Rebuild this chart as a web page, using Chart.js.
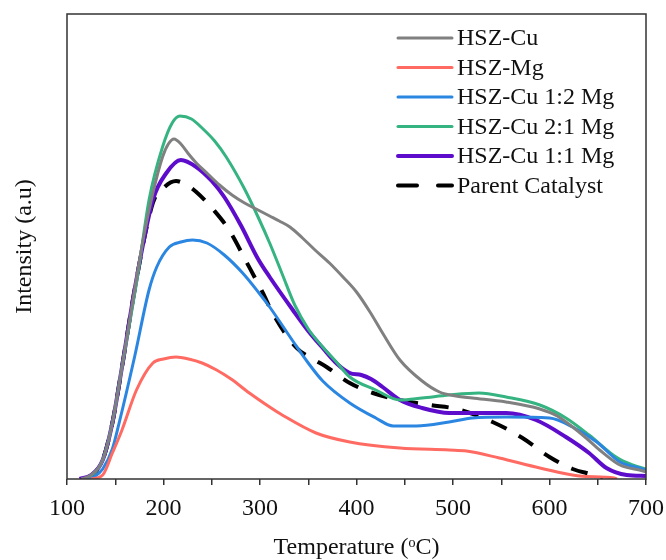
<!DOCTYPE html>
<html>
<head>
<meta charset="utf-8">
<script src="https://cdn.jsdelivr.net/npm/chart.js@4.4.1/dist/chart.umd.min.js"></script>
<style>
  html, body { margin: 0; padding: 0; background: #fff; }
  #wrap { width: 666px; height: 560px; }
</style>
</head>
<body>
<div id="wrap"><canvas id="tpd" width="666" height="560"></canvas></div>
<script>
// temperatures (C) and intensities (a.u.)
const cuT = [115,125,137,147,157,170,180,189,199,205,211,218,226,234,246,258,271,284,298,310,320,331,344,357,372,386,400,414,427,445,468,486,503,520,555,590,608,624,638,652,673,697,700]
const cuI = [0,4,19,56,112,189,245,286,322,335,340,335,325,316,305,294,284,276,269,263,258,252,241,229,216,202,187,167,146,119,98,87,83,81,77,70,63,52,41,29,14,8,7]

const mgT = [125,137,147,157,172,189,200,213,226,240,255,270,289,310,323,358,393,445,496,514,548,590,631,667,670]
const mgI = [0,4,26,49,89,116,120,122,120,116,109,100,86,72,64,46,37,31,29,28,21,11,3,1,0]

const cu12T = [120,128,137,147,154,170,185,193,206,218,230,245,263,282,299,310,334,350,365,393,420,438,462,496,520,555,600,624,649,673,693,700]
const cu12I = [0,2,10,30,56,122,189,212,232,237,239,236,224,206,186,172,138,116,98,76,61,53,53,57,61,62,61,52,37,17,11,9]

const cu21T = [118,126,137,147,157,173,185,199,209,217,229,241,253,265,284,298,310,323,336,350,365,380,393,420,445,468,496,527,555,590,617,641,669,686,700]
const cu21I = [0,4,19,56,112,202,279,332,356,363,360,350,338,322,290,262,236,205,174,150,132,116,102,89,79,81,84,86,82,74,61,44,22,14,10]

const cu11T = [113,125,137,147,157,170,189,203,218,234,250,263,280,298,310,334,350,365,380,393,405,415,427,445,468,496,520,555,586,617,641,659,680,700]
const cu11I = [0,4,19,56,112,189,279,306,319,312,298,282,254,220,202,169,148,131,115,106,104,100,92,79,71,66,66,66,59,42,26,11,4,3]

const parT = [118,126,137,147,157,170,189,201,213,224,234,252,268,286,303,313,338,355,369,393,417,445,476,504,541,572,600,624,649,655]
const parI = [0,4,19,56,112,189,276,292,298,294,287,269,249,217,186,166,131,120,112,96,86,79,74,70,57,41,22,10,3,0]

const xTicks = [100,200,300,400,500,600,700]

const serif = "'Liberation Serif', 'Times New Roman', serif"

function pts(t, v) {
    return t.map((x, i) => ({ x: x, y: v[i] }))
}

function ds(label, t, v, color, width, dash) {
    return {
        label: label,
        data: pts(t, v),
        borderColor: color,
        backgroundColor: color,
        borderWidth: width,
        borderDash: dash || [],
        pointRadius: 0,
        cubicInterpolationMode: 'monotone',
        fill: false,
    }
}

// box round the plot + legend drawn inside the top right corner
const framePlugin = {
    id: 'frame',
    afterDraw(chart) {
        const { ctx, chartArea: a } = chart
        ctx.save()
        ctx.strokeStyle = '#333'
        ctx.lineWidth = 1.5
        ctx.strokeRect(a.left, a.top, a.right - a.left, a.bottom - a.top)

        ctx.font = '24px ' + serif
        ctx.textBaseline = 'middle'
        ctx.fillStyle = '#111'
        chart.data.datasets.forEach((d, i) => {
            const y = 38 + i * 29.5
            ctx.beginPath()
            ctx.strokeStyle = d.borderColor
            ctx.lineWidth = d.borderWidth
            ctx.lineCap = 'round'
            ctx.setLineDash(d.borderDash.length ? [19, 21] : [])
            ctx.moveTo(398, y)
            ctx.lineTo(452, y)
            ctx.stroke()
            ctx.setLineDash([])
            ctx.fillText(d.label, 457, y + 1)
        })
        ctx.restore()
    }
}

new Chart(document.getElementById('tpd'), {
    type: 'line',
    data: {
        datasets: [
            ds('HSZ-Cu', cuT, cuI, '#808080', 3),
            ds('HSZ-Mg', mgT, mgI, '#ff6b62', 3),
            ds('HSZ-Cu 1:2 Mg', cu12T, cu12I, '#2b86e2', 3),
            ds('HSZ-Cu 2:1 Mg', cu21T, cu21I, '#35b381', 3),
            ds('HSZ-Cu 1:1 Mg', cu11T, cu11I, '#5e0ccc', 4),
            ds('Parent Catalyst', parT, parI, '#000000', 4, [17, 14]),
        ]
    },
    options: {
        responsive: false,
        animation: false,
        layout: { padding: { left: 0, right: 20, top: 14, bottom: 0 } },
        plugins: {
            legend: { display: false },
            tooltip: { enabled: false },
        },
        scales: {
            x: {
                type: 'linear',
                min: 100,
                max: 700,
                afterFit: s => {
                    s.height = 81
                    s.paddingLeft = 0
                    s.paddingRight = 0
                },
                afterBuildTicks: s => {
                    s.ticks = []
                    for (let v = 100; v <= 700; v += 50) s.ticks.push({ value: v })
                },
                ticks: {
                    autoSkip: false,
                    maxRotation: 0,
                    padding: 9,
                    color: '#111',
                    font: { family: serif, size: 24 },
                    callback: v => xTicks.includes(v) ? String(v) : '',
                },
                grid: { display: true, drawOnChartArea: false, tickLength: 6, color: '#333', lineWidth: 1.5 },
                border: { display: false },
                title: {
                    display: true,
                    text: 'Temperature (\u1D52C)',
                    color: '#111',
                    font: { family: serif, size: 24, lineHeight: 1 },
                    padding: { top: 0, bottom: 0 },
                },
            },
            y: {
                min: 0,
                max: 465,
                afterFit: s => { s.width = 67 },
                ticks: { display: false },
                grid: { display: false },
                border: { display: false },
                title: {
                    display: true,
                    text: 'Intensity (a.u)',
                    color: '#111',
                    font: { family: serif, size: 24, lineHeight: 1 },
                    padding: { top: 13, bottom: 0 },
                },
            }
        }
    },
    plugins: [framePlugin]
})
</script>
</body>
</html>
